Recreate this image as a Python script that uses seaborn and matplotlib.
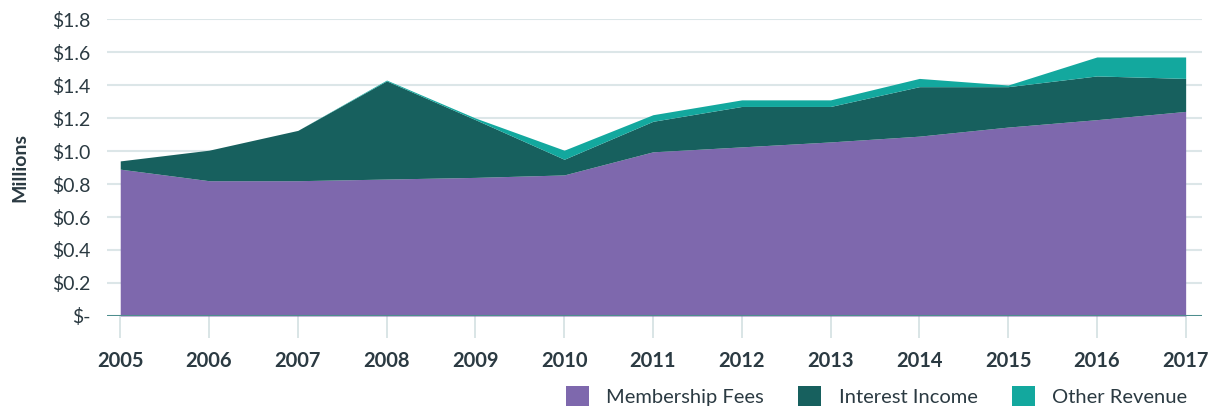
import matplotlib.pyplot as plt
from matplotlib.patches import Patch
from matplotlib.ticker import FuncFormatter
import numpy as np
import pandas as pd
import seaborn as sns

# data (millions of dollars)
years = [2005, 2006, 2007, 2008, 2009, 2010, 2011, 2012, 2013, 2014, 2015, 2016, 2017]
membership_fees = [0.89, 0.82, 0.82, 0.83, 0.84, 0.855, 0.995, 1.025, 1.055, 1.09, 1.145, 1.19, 1.24]
interest_income = [0.05, 0.185, 0.305, 0.595, 0.35, 0.095, 0.185, 0.245, 0.215, 0.30, 0.245, 0.265, 0.20]
other_revenue = [0.0, 0.0, 0.0, 0.005, 0.01, 0.055, 0.04, 0.04, 0.04, 0.05, 0.01, 0.115, 0.13]
series_names = ['Membership Fees', 'Interest Income', 'Other Revenue']
y_ticks = [0.0, 0.2, 0.4, 0.6, 0.8, 1.0, 1.2, 1.4, 1.6, 1.8]

colors = ['#7E68AD', '#17605E', '#13A89E']
TEXT = '#2B3A42'

df = pd.DataFrame({'year': years,
                   series_names[0]: membership_fees,
                   series_names[1]: interest_income,
                   series_names[2]: other_revenue})

sns.set_theme(style='white')
plt.rcParams['font.family'] = ['Lato', 'DejaVu Sans']

fig = plt.figure(figsize=(12.15, 4.09), dpi=100)
ax = fig.add_axes([0.088, 0.2274, 0.901, 0.7261])

ax.stackplot(df['year'], df[series_names[0]], df[series_names[1]], df[series_names[2]],
             colors=colors, linewidth=0, zorder=2)

ax.set_xlim(2004.85, 2017.18)
ax.set_ylim(0, 1.8)
ax.set_yticks(y_ticks)
ax.yaxis.set_major_formatter(FuncFormatter(lambda v, p: '$-' if v == 0 else f'${v:.1f}'))
ax.set_xticks(years)
ax.set_xticklabels([str(y) for y in years], fontweight='bold')

for v in y_ticks[1:]:
    ax.axhline(v, color='#DCE6E8', lw=1.5, zorder=1)
ax.axhline(0, color='#4E8E8E', lw=2.2, zorder=3)

for s in ax.spines.values():
    s.set_visible(False)

ax.tick_params(axis='y', length=0, pad=12, labelsize=14, labelcolor=TEXT)
ax.tick_params(axis='x', length=16, width=1.2, color='#D3E0E2', pad=9,
               labelsize=14.5, labelcolor=TEXT, bottom=True)
ax.set_ylabel('Millions', fontsize=14, fontweight='bold', color=TEXT, labelpad=17)

handles = [Patch(facecolor=c, edgecolor='none') for c in colors]
leg = fig.legend(handles, series_names, loc='center right', bbox_to_anchor=(0.977, 0.032),
                 ncol=3, frameon=False, fontsize=14.5, handlelength=1.15, handleheight=1.15,
                 handletextpad=0.85, columnspacing=1.7, borderpad=0, borderaxespad=0)
for t in leg.get_texts():
    t.set_color(TEXT)

fig.savefig('out.png', dpi=100)
